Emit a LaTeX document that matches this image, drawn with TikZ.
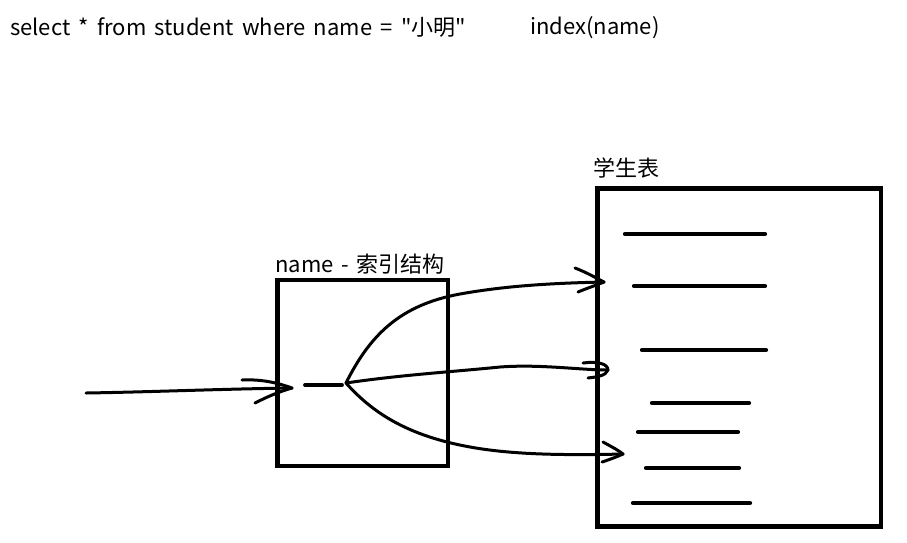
\documentclass[tikz,border=0pt]{standalone}
\usepackage{fontspec}
\setmainfont[Ligatures=TeXOff]{Noto Sans CJK SC}
\newcommand{\widespaces}[1]{\spaceskip=#1pt\relax}
\begin{document}
\begin{tikzpicture}[x=1pt,y=-1pt,
  lbl/.style={inner sep=0pt,font=\fontsize{22}{25}\selectfont},
  box/.style={draw,line width=4.8pt,inner sep=0pt},
  stroke/.style={line width=3pt,line cap=round,line join=round},
  rowline/.style={line width=4.2pt,line cap=round}]
\useasboundingbox (0,0) rectangle (907,542);
% texts
\node[lbl,anchor=west] (sql) at (10,27) {\widespaces{8.3}select * from student where name = "小明"};
\node[lbl,anchor=west] (idx) at (530,28) {index(name)};
\node[lbl,anchor=south west] (idxlbl) at (275,274) {\widespaces{7.5}name - 索引结构};
\node[lbl,anchor=south west] (tbllbl) at (593,178) {学生表};
% boxes
\node[box,minimum width=170.5,minimum height=186] (ibox) at (362.75,373) {};
\node[box,minimum width=283.5,minimum height=338] (tbox) at (739.25,357.5) {};
% rows of the table
\draw[rowline] (625,234) -- (765,234);
\draw[rowline] (634,286) -- (765,286);
\draw[rowline] (642,350) -- (766,350);
\draw[rowline] (652,403) -- (749,403);
\draw[rowline] (638,432) -- (738,432);
\draw[rowline] (646,468) -- (739,468);
\draw[rowline] (633,503) -- (750,503);
% index entry
\draw[rowline,line width=3.8pt] (305,385) -- (342,385);
% coordinates
\coordinate (start) at (86,393);
\coordinate (t0) at (292,388);
\coordinate (fork) at (346,383);
\coordinate (t1) at (604,282);
\coordinate (t2) at (608,370);
\coordinate (t3) at (623,454);
% incoming arrow
\draw[stroke] (start) .. controls (150,392) and (220,389) .. (t0);
\draw[stroke] (242,380) .. controls (262,379) and (278,383) .. (t0) .. controls (275,393) and (265,398) .. (255,403);
% three curves
\draw[stroke] (fork) .. controls (370,335) and (400,305) .. (460,294) .. controls (510,285) and (560,283) .. (t1);
\draw[stroke] (575,268) .. controls (588,273) and (596,278) .. (t1) .. controls (594,286) and (585,289) .. (578,292);
\draw[stroke] (fork) .. controls (400,375) and (450,372) .. (500,367) .. controls (540,364) and (580,370) .. (t2);
\draw[stroke] (583,363) .. controls (598,361) and (608,364) .. (t2) .. controls (606,376) and (596,377) .. (588,378);
\draw[stroke] (fork) .. controls (370,410) and (400,430) .. (447,442) .. controls (490,453) and (540,456) .. (t3);
\draw[stroke] (603,442) .. controls (612,447) and (618,450) .. (t3) .. controls (614,458) and (608,460) .. (602,462);
\end{tikzpicture}
\end{document}
